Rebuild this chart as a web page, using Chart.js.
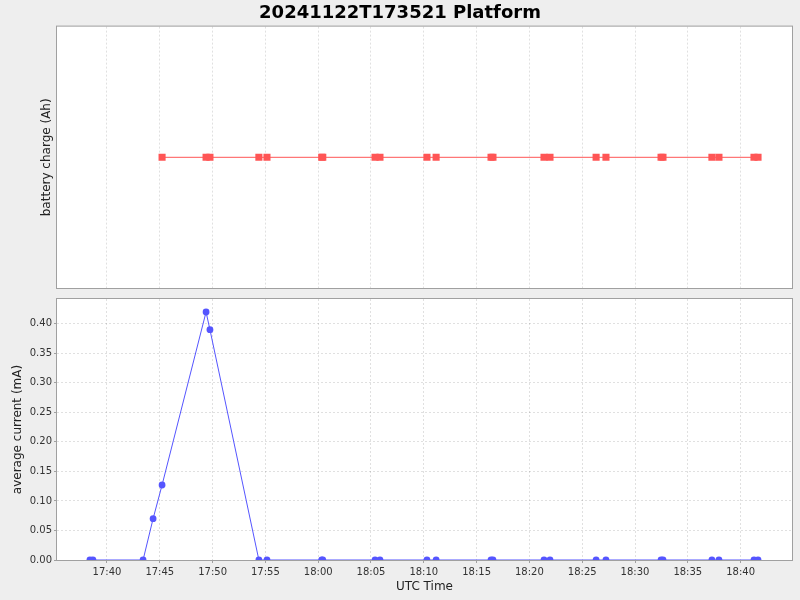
<!DOCTYPE html>
<html>
<head>
<meta charset="utf-8">
<script src="https://cdn.jsdelivr.net/npm/chart.js@4/dist/chart.umd.min.js"></script>
<style>
  html, body { margin: 0; padding: 0; background: #eeeeee; }
  #wrap { position: relative; width: 800px; height: 600px; }
  canvas { position: absolute; left: 0; }
  #topChart { top: 0; }
  #bottomChart { top: 291px; }
</style>
</head>
<body>
<div id="wrap">
  <canvas id="topChart" width="800" height="293"></canvas>
  <canvas id="bottomChart" width="800" height="309"></canvas>
</div>
<script>
// sample times (UTC)
const times = [
    "17:38:23", "17:38:40", "17:43:25", "17:44:22", "17:45:13",
    "17:49:23", "17:49:45", "17:54:23", "17:55:09", "18:00:20",
    "18:00:26", "18:05:23", "18:05:51", "18:10:18", "18:11:10",
    "18:16:22", "18:16:33", "18:21:23", "18:21:57", "18:26:19",
    "18:27:15", "18:32:28", "18:32:39", "18:37:17", "18:37:57",
    "18:41:16", "18:41:39"
];
// average current (mA)
const currentValues = [
    0, 0, 0, 0.07, 0.127,
    0.42, 0.39, 0, 0, 0,
    0, 0, 0, 0, 0,
    0, 0, 0, 0, 0,
    0, 0, 0, 0, 0,
    0, 0
];
// battery charge (Ah) - flat, missing for the first samples
const chargeValues = [
    null, null, null, null, 0,
    0, 0, 0, 0, 0,
    0, 0, 0, 0, 0,
    0, 0, 0, 0, 0,
    0, 0, 0, 0, 0,
    0, 0
];
const tickTimes = ["17:40", "17:45", "17:50", "17:55", "18:00", "18:05", "18:10",
    "18:15", "18:20", "18:25", "18:30", "18:35", "18:40"];
const currentTicks = [0, 0.05, 0.10, 0.15, 0.20, 0.25, 0.30, 0.35, 0.40];

const xStart = "17:35:16";
const xEnd = "18:44:52";

function toSec(t) {
    const p = t.split(":").map(Number);
    return p[0] * 3600 + p[1] * 60 + (p[2] || 0);
}
function fmtTime(v) {
    const h = Math.floor(v / 3600);
    const m = Math.round((v - h * 3600) / 60);
    return String(h).padStart(2, "0") + ":" + String(m).padStart(2, "0");
}

const FONT = "'DejaVu Sans', sans-serif";
const gridColor = "rgba(0,0,0,0.12)";

// white plot area + gray frame, like the reference
const plotFrame = {
    id: "plotFrame",
    beforeDraw(chart) {
        const a = chart.chartArea;
        const ctx = chart.ctx;
        ctx.save();
        ctx.fillStyle = "#ffffff";
        ctx.fillRect(a.left, a.top, a.right - a.left, a.bottom - a.top);
        ctx.restore();
    },
    afterDraw(chart) {
        const a = chart.chartArea;
        const ctx = chart.ctx;
        ctx.save();
        ctx.strokeStyle = "#a0a0a0";
        ctx.lineWidth = 1;
        ctx.strokeRect(a.left - 0.5, a.top - 0.5, a.right - a.left + 1, a.bottom - a.top + 1);
        ctx.restore();
    }
};

function xScale(showLabels) {
    return {
        type: "linear",
        min: toSec(xStart),
        max: toSec(xEnd),
        afterBuildTicks: (scale) => {
            scale.ticks = tickTimes.map(t => ({ value: toSec(t) }));
        },
        ticks: {
            display: showLabels,
            callback: (v) => fmtTime(v),
            font: { family: FONT, size: 10 },
            color: "#333333",
            padding: 3,
            maxRotation: 0
        },
        grid: {
            color: gridColor,
            tickLength: showLabels ? 3 : 0,
            tickColor: "#a0a0a0"
        },
        border: { display: false, dash: [2, 2] },
        title: {
            display: showLabels,
            text: "UTC Time",
            font: { family: FONT, size: 12 },
            color: "#222222",
            padding: { top: 2, bottom: 6 }
        },
        afterFit: (scale) => {
            if (showLabels) scale.height = 40; else scale.height = 0;
        }
    };
}

Chart.defaults.animation = false;

new Chart(document.getElementById("topChart"), {
    type: "line",
    data: {
        labels: times,
        datasets: [{
            label: "battery charge (Ah)",
            data: times.map((t, i) => ({ x: toSec(t), y: chargeValues[i] })),
            borderColor: "#ff5555",
            backgroundColor: "#ff5555",
            borderWidth: 1,
            pointStyle: "rect",
            pointRadius: 5,
            pointBorderWidth: 0,
            spanGaps: false
        }]
    },
    options: {
        responsive: false,
        devicePixelRatio: 1,
        layout: { padding: { top: 0, right: 8, bottom: 5, left: 8 } },
        plugins: {
            legend: { display: false },
            tooltip: { enabled: false },
            title: {
                display: true,
                text: "20241122T173521 Platform",
                font: { family: FONT, size: 18, weight: "bold" },
                color: "#000000",
                padding: { top: 3, bottom: 2 }
            }
        },
        scales: {
            x: xScale(false),
            y: {
                min: -1,
                max: 1,
                ticks: { display: false },
                grid: { display: false },
                border: { display: false },
                title: {
                    display: true,
                    text: "battery charge (Ah)",
                    font: { family: FONT, size: 12 },
                    color: "#222222",
                    padding: { top: 32, bottom: 0 }
                },
                afterFit: (scale) => { scale.width = 49; }
            }
        }
    },
    plugins: [plotFrame]
});

new Chart(document.getElementById("bottomChart"), {
    type: "line",
    data: {
        labels: times,
        datasets: [{
            label: "average current (mA)",
            data: times.map((t, i) => ({ x: toSec(t), y: currentValues[i] })),
            borderColor: "#5555ff",
            backgroundColor: "#5555ff",
            borderWidth: 1,
            pointRadius: 3.4,
            pointBorderWidth: 0
        }]
    },
    options: {
        responsive: false,
        devicePixelRatio: 1,
        layout: { padding: { top: 3, right: 8, bottom: 0, left: 8 } },
        plugins: {
            legend: { display: false },
            tooltip: { enabled: false }
        },
        scales: {
            x: xScale(true),
            y: {
                min: 0,
                max: 0.442,
                afterBuildTicks: (scale) => {
                    scale.ticks = currentTicks.map(v => ({ value: v }));
                },
                ticks: {
                    callback: (v) => v.toFixed(2),
                    font: { family: FONT, size: 10 },
                    color: "#333333",
                    padding: 2
                },
                grid: {
                    color: gridColor,
                    tickLength: 3,
                    tickColor: "#a0a0a0"
                },
                border: { display: false, dash: [2, 2] },
                title: {
                    display: true,
                    text: "average current (mA)",
                    font: { family: FONT, size: 12 },
                    color: "#222222",
                    padding: { top: 3, bottom: 0 }
                },
                afterFit: (scale) => { scale.width = 49; }
            }
        }
    },
    plugins: [plotFrame]
});
</script>
</body>
</html>
